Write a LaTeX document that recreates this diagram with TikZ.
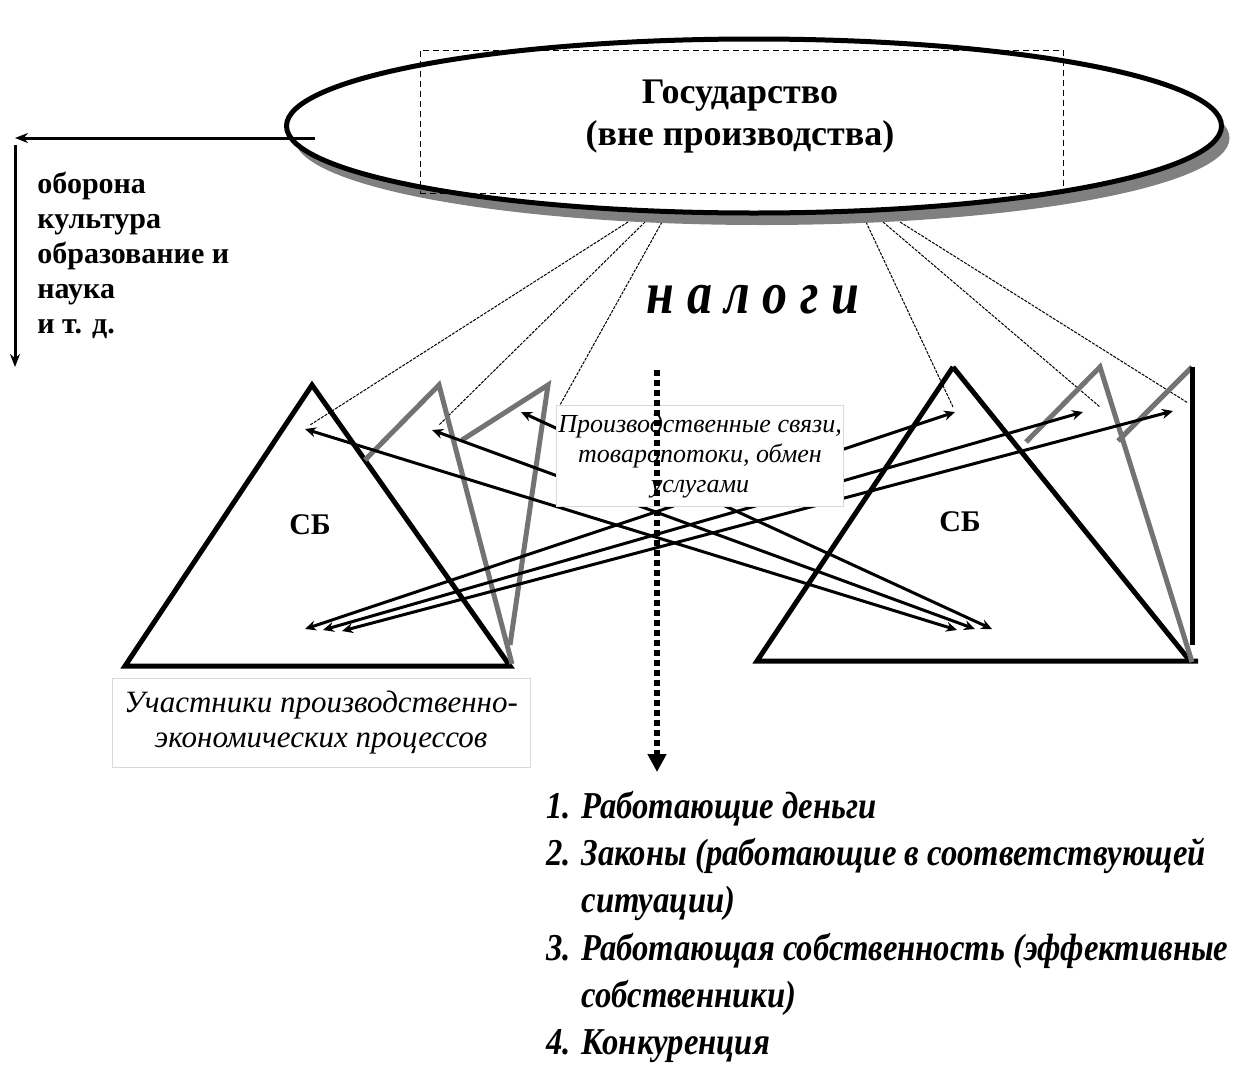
\documentclass[tikz,border=0pt]{standalone}
\usepackage{fontspec}
\setmainfont{Liberation Serif}
\usetikzlibrary{shapes.geometric, arrows.meta, shadows}
\tikzset{
    tri/.style={line width=2.5pt},
    gtri/.style={line width=2.5pt, draw=black!55},
    taxline/.style={line width=0.5pt, dash pattern=on 1.5pt off 0.6pt},
    arrow/.style={-{Stealth[length=6.5pt, width=5pt]}, line width=1.5pt},
    link/.style={{Stealth[length=5.5pt, width=5pt]}-{Stealth[length=5.5pt, width=5pt]}, line width=1.5pt},
    lbl/.style={draw=black!15, line width=0.5pt, fill=white, align=center, inner sep=0pt}
}
\begin{document}
\begin{tikzpicture}[x=0.5pt, y=-0.5pt]
\useasboundingbox (0,0) rectangle (1234,1076);
% taxes from the state down to the participants
\coordinate (s1) at (628,222); \coordinate (e1) at (310,425);
\coordinate (s2) at (645,222); \coordinate (e2) at (439,425);
\coordinate (s3) at (662,222); \coordinate (e3) at (560,405);
\coordinate (s4) at (866,222); \coordinate (e4) at (953,407);
\coordinate (s5) at (883,222); \coordinate (e5) at (1100,407);
\coordinate (s6) at (900,222); \coordinate (e6) at (1188,403);
\foreach \i in {1,...,6} \draw[taxline] (s\i) -- (e\i);
% the state
\node[ellipse, draw, line width=2.5pt, fill=white, minimum width=467.5pt, minimum height=87pt,
      drop shadow={shadow xshift=4pt, shadow yshift=-6pt, fill=black!50, opacity=1}] (gov) at (754,126) {};
\node[draw, densely dashed, line width=0.4pt, minimum width=321.5pt, minimum height=71.5pt] (govbox) at (741.5,121.5) {};
\node[align=center, font=\bfseries\fontsize{18}{21}\selectfont] (govtext) at (740,117) {Государство\\(вне производства)};
% spending outside production
\coordinate (out) at (315,138);
\coordinate (corner) at (15,138);
\coordinate (down1) at (15,145);
\coordinate (down2) at (15,367);
\draw[arrow] (out) -- (corner);
\draw[arrow] (down1) -- (down2);
\node[anchor=north west, align=left, inner sep=0pt, font=\bfseries\fontsize{15}{17.5}\selectfont] (spend) at (37,172)
    {оборона\\культура\\образование и\\наука\\и т. д.};
\node[font=\bfseries\itshape\fontsize{25}{30}\selectfont] (tax) at (753,300) {\scalebox{1}[1.2]{н а л о г и}};
% participants
\draw[tri] (312,385) -- (125,666) -- (510,666) -- cycle;
\draw[gtri] (365,460) -- (439,385) -- (512,664);
\draw[gtri] (462,440) -- (548,385) -- (510,645);
\draw[tri] (953,367) -- (757,661) -- (1198,661);
\draw[tri] (953,367) -- (1190,661);
\draw[gtri] (1026,442) -- (1100,367) -- (1192,662);
\draw[gtri] (1118,441) -- (1192,367);
\draw[tri] (1192,367) -- (1192,645);
\node[font=\bfseries\fontsize{15}{18}\selectfont] (sb1) at (310,525) {СБ};
\node[font=\bfseries\fontsize{15}{18}\selectfont] (sb2) at (960,522) {СБ};
% links between them
\coordinate (a1) at (305,429); \coordinate (b1) at (957,630);
\coordinate (a2) at (432,430); \coordinate (b2) at (975,629);
\coordinate (a3) at (521,412); \coordinate (b3) at (992,629);
\coordinate (c1) at (305,629); \coordinate (d1) at (955,412);
\coordinate (c2) at (323,630); \coordinate (d2) at (1083,412);
\coordinate (c3) at (342,631); \coordinate (d3) at (1173,411);
\foreach \i in {1,2,3} {
    \draw[link] (a\i) -- (b\i);
    \draw[link] (c\i) -- (d\i);
}
\node[lbl, minimum width=143.5pt, minimum height=50.5pt, font=\itshape\fontsize{13}{15}\selectfont] (ties) at (700,456)
    {Производственные связи,\\товаропотоки, обмен\\услугами};
\coordinate (dtop) at (657,370);
\coordinate (dbot) at (657,772);
\draw[line width=2.6pt, dash pattern=on 3pt off 2pt, -{Triangle[length=9pt, width=9pt]}] (dtop) -- (dbot);
\node[lbl, minimum width=209pt, minimum height=44.5pt, font=\itshape\fontsize{15.5}{17.5}\selectfont] (memb) at (321,722.5)
    {Участники производственно-\\экономических процессов};
% conditions
\node[anchor=north west, inner sep=0pt, font=\bfseries\itshape\fontsize{19}{23.6}\selectfont] (list) at (546,785)
    {\scalebox{0.86}[1]{\begin{tabular}{@{}l@{}}
     \makebox[20.5pt][l]{1.}Работающие деньги\\
     \makebox[20.5pt][l]{2.}Законы (работающие в соответствующей\\
     \hspace*{20.5pt}ситуации)\\
     \makebox[20.5pt][l]{3.}Работающая собственность (эффективные\\
     \hspace*{20.5pt}собственники)\\
     \makebox[20.5pt][l]{4.}Конкуренция
     \end{tabular}}};
\end{tikzpicture}
\end{document}
